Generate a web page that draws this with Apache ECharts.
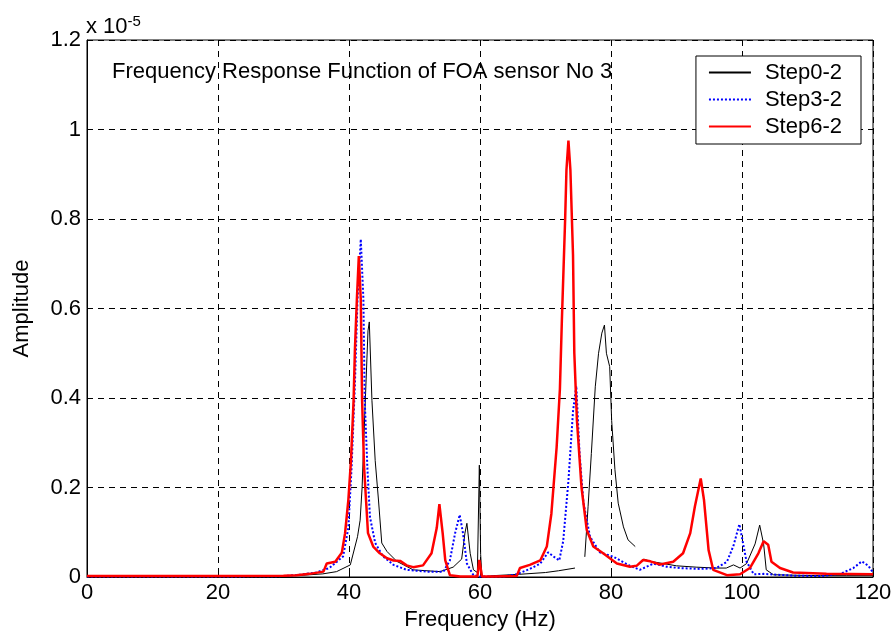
<!DOCTYPE html>
<html>
<head>
<meta charset="utf-8">
<script src="https://cdn.jsdelivr.net/npm/echarts@6/dist/echarts.min.js"></script>
<style>
html,body{margin:0;padding:0;background:#fff;}
#chart{width:895px;height:638px;}
</style>
</head>
<body>
<div id="chart"></div>
<script>
// Data (amplitudes in units of 1e-5); null = gap in the measured curve
var seriesNames = ['Step0-2', 'Step3-2', 'Step6-2'];
var xTicks = [0, 20, 40, 60, 80, 100, 120];
var yTicks = [0, 0.2, 0.4, 0.6, 0.8, 1.0, 1.2];

var step0 = [
  [0,0.001],[10,0.001],[20,0.001],[30,0.002],[33,0.004],[36,0.007],[38.1,0.012],[40.2,0.027],
  [41.3,0.09],[41.7,0.127],[42.0,0.2],[42.4,0.36],[42.9,0.55],[43.1,0.57],[43.5,0.395],[44.0,0.26],
  [44.5,0.172],[45.0,0.076],[45.8,0.057],[47.3,0.035],[49.8,0.016],[53.9,0.012],[55.9,0.022],
  [57.2,0.04],[57.7,0.098],[58.0,0.12],[58.5,0.053],[59.0,0.016],[59.6,0.01],[59.9,0.25],[60.1,0.05],
  [60.3,0.0],[62,0.003],[66,0.006],[70,0.01],[72,0.014],[74.5,0.02],[75.2,null],[76.0,0.045],
  [76.5,0.157],[77.0,0.276],[77.6,0.425],[78.1,0.5],[78.6,0.545],[79.0,0.563],[79.3,0.5],[79.8,0.47],
  [80.1,0.35],[80.6,0.24],[81.1,0.165],[81.9,0.112],[82.6,0.083],[83.7,0.068],[84.3,null],[85.0,0.04],
  [86,0.035],[88,0.03],[90,0.025],[93,0.022],[96,0.02],[97.6,0.02],[98.7,0.027],[99.7,0.02],
  [100.7,0.03],[102.0,0.074],[102.7,0.116],[103.3,0.074],[103.7,0.016],[104.8,0.005],[108,0.004],
  [112,0.003],[116,0.003],[120,0.003]
];

var step3 = [
  [0,0.001],[10,0.001],[20,0.001],[30,0.002],[32.5,0.005],[35,0.01],[37,0.02],[39.1,0.046],
  [39.9,0.11],[40.4,0.246],[40.9,0.43],[41.3,0.62],[41.8,0.755],[42.2,0.62],[42.4,0.395],[42.8,0.246],
  [43.2,0.134],[44.0,0.076],[45.2,0.046],[46.8,0.027],[48.8,0.016],[51.9,0.012],[54.4,0.012],
  [55.4,0.037],[56.2,0.098],[56.9,0.139],[57.4,0.098],[58.0,0.03],[59.0,0.004],[60,0.001],
  [63.6,0.001],[65.6,0.006],[67.6,0.018],[69.2,0.03],[70.4,0.055],[71.2,0.046],[72.1,0.037],
  [72.7,0.08],[73.5,0.215],[74.2,0.37],[74.7,0.427],[75.2,0.276],[75.8,0.165],[76.8,0.09],
  [78.3,0.055],[80.4,0.045],[82.9,0.025],[84.4,0.016],[86.5,0.03],[88.5,0.023],[90.5,0.02],
  [93.6,0.018],[96.1,0.02],[97.7,0.034],[98.7,0.07],[99.6,0.118],[100.1,0.08],[100.7,0.034],
  [101.8,0.006],[103.3,0.007],[107.8,0.003],[112,0.002],[115,0.007],[117.0,0.02],[118.3,0.035],
  [119.3,0.025],[120,0.01]
];

var step6 = [
  [0,0.002],[10,0.002],[20,0.002],[30,0.003],[32,0.004],[34,0.007],[36.1,0.012],[36.6,0.03],
  [37.9,0.034],[38.9,0.054],[39.4,0.098],[39.9,0.172],[40.3,0.26],[40.7,0.395],[40.9,0.507],
  [41.2,0.62],[41.5,0.717],[41.8,0.62],[42.0,0.395],[42.3,0.246],[42.6,0.172],[42.9,0.098],
  [43.7,0.068],[44.7,0.053],[45.8,0.042],[46.8,0.037],[47.8,0.036],[48.8,0.026],[49.8,0.022],
  [51.3,0.026],[52.6,0.053],[53.4,0.11],[53.8,0.163],[54.3,0.098],[54.7,0.037],[55.4,0.004],
  [57,0.001],[59.6,0.001],[59.9,0.038],[60.3,0.001],[62,0.001],[65.6,0.002],[66.1,0.02],
  [67.6,0.027],[69.2,0.037],[70.2,0.068],[70.9,0.142],[71.7,0.29],[72.2,0.42],[72.5,0.574],
  [73.0,0.8],[73.2,0.91],[73.5,0.975],[73.8,0.91],[74.2,0.72],[74.4,0.5],[74.8,0.35],[75.5,0.2],
  [76.3,0.105],[77.3,0.068],[78.8,0.053],[80.9,0.03],[82.9,0.023],[83.9,0.025],[84.9,0.038],
  [86.0,0.035],[87.5,0.028],[89.5,0.034],[91.0,0.053],[92.1,0.098],[92.8,0.157],[93.7,0.22],
  [94.2,0.172],[94.9,0.06],[95.6,0.016],[97.7,0.004],[99.7,0.006],[101.2,0.02],[102.5,0.053],
  [103.3,0.08],[104.0,0.072],[104.5,0.034],[105.8,0.02],[107.8,0.01],[112.9,0.007],[120,0.006]
];

function toSeriesData(arr) {
  return arr.map(function (p) { return [p[0], p[1] === null ? '-' : p[1]]; });
}

var FONT = 'Liberation Sans, Arial, sans-serif';
var chart = echarts.init(document.getElementById('chart'), null, {renderer: 'canvas'});

var option = {
  animation: false,
  backgroundColor: '#fff',
  textStyle: {fontFamily: FONT, color: '#000'},
  title: {
    text: 'Frequency Response Function of FOA sensor No 3',
    left: 112, top: 61, padding: 0,
    textStyle: {fontFamily: FONT, fontSize: 22, fontWeight: 'normal', color: '#000'}
  },
  legend: {
    data: seriesNames,
    orient: 'vertical',
    right: 34, top: 56,
    padding: [3, 19, 4, 12],
    itemGap: 0,
    itemWidth: 42, itemHeight: 14,
    backgroundColor: '#fff',
    borderColor: '#000', borderWidth: 1, borderRadius: 0,
    itemStyle: {opacity: 0, borderWidth: 0},
    textStyle: {fontFamily: FONT, fontSize: 22, color: '#000', lineHeight: 27, padding: [0, 0, 0, 9]}
  },
  graphic: [{
    type: 'text',
    left: 86, top: 14,
    style: {
      text: 'x 10{sup|-5}',
      font: '22px ' + FONT,
      fill: '#000',
      rich: {sup: {fontSize: 15, fontFamily: FONT, verticalAlign: 'top', padding: [0, 0, 10, 0], fill: '#000'}}
    }
  }],
  grid: {
    left: 87, right: 22, top: 40, bottom: 61,
    show: true, borderColor: '#000', borderWidth: 1, backgroundColor: 'transparent'
  },
  xAxis: {
    type: 'value', min: xTicks[0], max: xTicks[xTicks.length - 1], interval: 20,
    name: 'Frequency (Hz)', nameLocation: 'middle', nameGap: 32,
    nameTextStyle: {fontFamily: FONT, fontSize: 22, color: '#000'},
    axisLine: {show: true, lineStyle: {color: '#000', width: 1}},
    axisTick: {show: true, inside: true, length: 6, lineStyle: {color: '#000'}},
    axisLabel: {fontFamily: FONT, fontSize: 22, color: '#000', margin: 5},
    splitLine: {show: true, lineStyle: {color: '#000', type: [6, 5], width: 1}}
  },
  yAxis: {
    type: 'value', min: yTicks[0], max: yTicks[yTicks.length - 1], interval: 0.2,
    name: 'Amplitude', nameLocation: 'middle', nameGap: 54,
    nameTextStyle: {fontFamily: FONT, fontSize: 22, color: '#000'},
    axisLine: {show: true, lineStyle: {color: '#000', width: 1}},
    axisTick: {show: true, inside: true, length: 6, lineStyle: {color: '#000'}},
    axisLabel: {
      fontFamily: FONT, fontSize: 22, color: '#000', margin: 6,
      formatter: function (v) { return String(+v.toFixed(1)); }
    },
    splitLine: {show: true, lineStyle: {color: '#000', type: [6, 5], width: 1}}
  },
  series: [
    {
      name: seriesNames[0], type: 'line', data: toSeriesData(step0),
      showSymbol: false, symbol: 'none', connectNulls: false,
      lineStyle: {color: '#000', width: 1}, itemStyle: {color: '#000'}
    },
    {
      name: seriesNames[1], type: 'line', data: toSeriesData(step3),
      showSymbol: false, symbol: 'none',
      lineStyle: {color: '#0000ff', width: 2, type: [2, 2]}, itemStyle: {color: '#0000ff'}
    },
    {
      name: seriesNames[2], type: 'line', data: toSeriesData(step6),
      showSymbol: false, symbol: 'none',
      lineStyle: {color: '#ff0000', width: 2.5}, itemStyle: {color: '#ff0000'}
    }
  ]
};
chart.setOption(option);
</script>
</body>
</html>
